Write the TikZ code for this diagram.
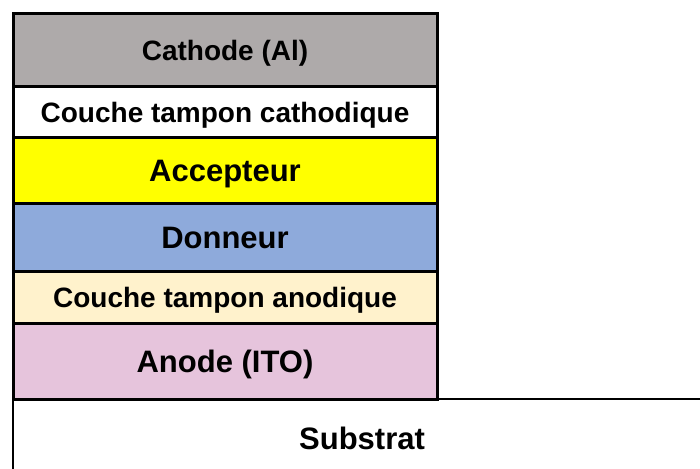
\documentclass[tikz,border=0pt]{standalone}
\usepackage{fontspec}
\setmainfont{Liberation Sans}
\usetikzlibrary{positioning}
\definecolor{cathgray}{RGB}{174,170,170}
\definecolor{accyellow}{RGB}{255,255,0}
\definecolor{donblue}{RGB}{142,170,219}
\definecolor{anocream}{RGB}{255,242,204}
\definecolor{itopink}{RGB}{230,196,220}

\begin{document}
\begin{tikzpicture}[x=1pt,y=-1pt,
  layer/.style={draw,line width=3pt,minimum width=424pt,inner sep=0pt,outer sep=0pt,
    text height=20pt,text depth=0pt,font=\bfseries\fontsize{28}{32}\selectfont},
  big/.style={text height=22.2pt,text depth=0pt,font=\bfseries\fontsize{31}{36}\selectfont}]
\useasboundingbox (0,0) rectangle (700,468);
\clip (0,0) rectangle (700,468);

% substrat (coupe par le bord)
\node [draw,line width=2pt,minimum width=698pt,minimum height=78pt,inner sep=0pt,big] (substrat) at (362,438) {Substrat};

% empilement des couches
\node [layer,fill=cathgray,minimum height=73.5pt,anchor=north west] (cathode) at (13,13.5) {Cathode (Al)};
\node [layer,fill=white,minimum height=50pt,below=0pt of cathode] (tamponcat) {Couche tampon cathodique};
\node [layer,fill=accyellow,minimum height=66pt,below=0pt of tamponcat,big] (accepteur) {Accepteur};
\node [layer,fill=donblue,minimum height=68pt,below=0pt of accepteur,big] (donneur) {Donneur};
\node [layer,fill=anocream,minimum height=52pt,below=0pt of donneur] (tamponano) {Couche tampon anodique};
\node [layer,fill=itopink,minimum height=76pt,below=0pt of tamponano,big] (anode) {Anode (ITO)};
\end{tikzpicture}
\end{document}
